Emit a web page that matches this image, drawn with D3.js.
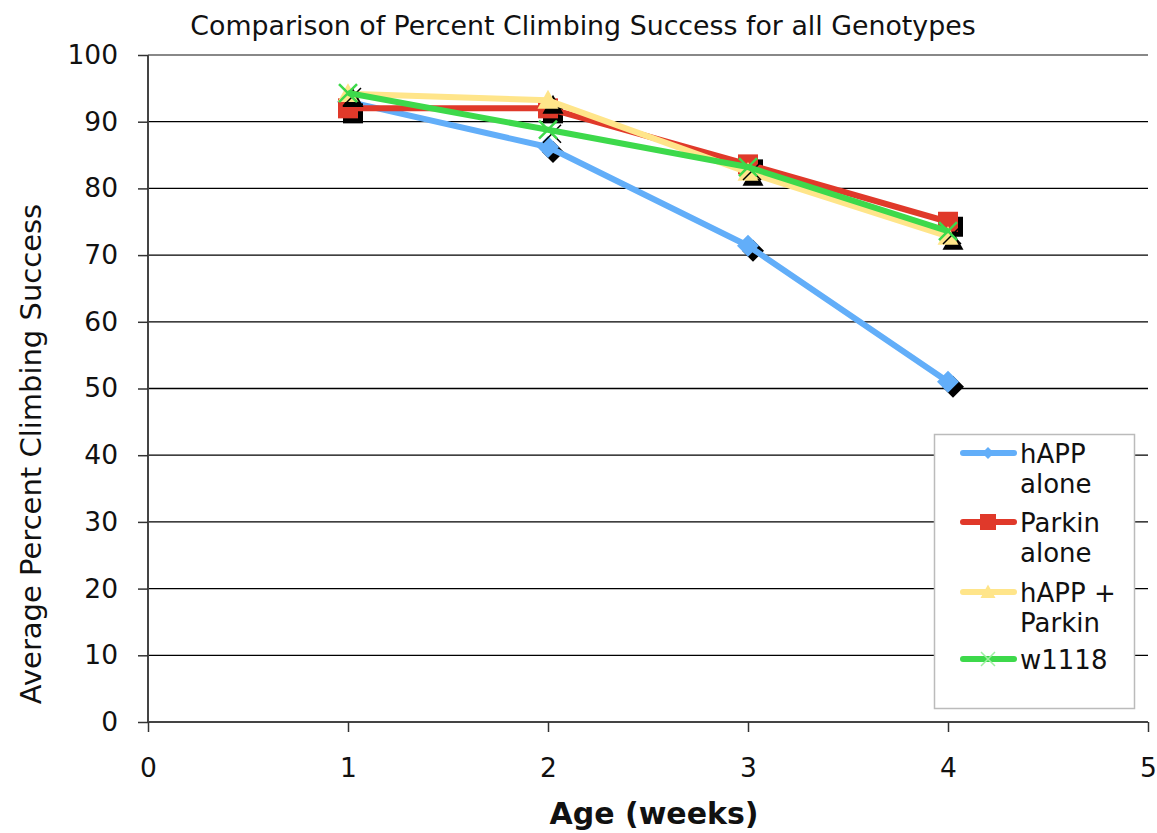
<!DOCTYPE html>
<html>
<head>
<meta charset="utf-8">
<script src="https://cdn.jsdelivr.net/npm/d3@7"></script>
<style>
  html, body { margin: 0; padding: 0; background: #fff; }
  svg { display: block; font-family: "DejaVu Sans", Verdana, sans-serif; }
</style>
</head>
<body>
<svg id="chart" width="1157" height="833"></svg>
<script>
// Average climbing success (%) by age in weeks, per genotype
const weeks = [1, 2, 3, 4];
const hAPPAlone = [93.0, 86.2, 71.4, 51.0];
const parkinAlone = [92.0, 92.0, 83.6, 75.0];
const hAPPParkin = [94.2, 93.2, 82.4, 72.8];
const w1118 = [94.3, 88.8, 83.2, 73.6];

const seriesNames = [["hAPP", "alone"], ["Parkin", "alone"], ["hAPP +", "Parkin"], ["w1118"]];
const xTicks = [0, 1, 2, 3, 4, 5];
const yTicks = [0, 10, 20, 30, 40, 50, 60, 70, 80, 90, 100];

const series = [
  { name: seriesNames[0], values: hAPPAlone, color: "#62aef9", marker: "diamond" },
  { name: seriesNames[1], values: parkinAlone, color: "#e0392a", marker: "square" },
  { name: seriesNames[2], values: hAPPParkin, color: "#ffe58a", marker: "triangle" },
  { name: seriesNames[3], values: w1118, color: "#3dd94b", marker: "cross" }
];

const FONT = "DejaVu Sans, Verdana, sans-serif";
const svg = d3.select("#chart");
const plot = { left: 148, right: 1148, top: 55, bottom: 722 };

const x = d3.scaleLinear().domain([0, 5]).range([plot.left, plot.right]);
const y = d3.scaleLinear().domain([0, 100]).range([plot.bottom, plot.top]);

// Horizontal gridlines
svg.append("g")
  .selectAll("line")
  .data(yTicks.filter(d => d > 0))
  .join("line")
  .attr("x1", plot.left).attr("x2", plot.right)
  .attr("y1", d => y(d)).attr("y2", d => y(d))
  .attr("stroke", d => d === 100 ? "#888" : "#000")
  .attr("stroke-width", d => d === 100 ? 2 : 1.3);

// Y axis
const yAxis = svg.append("g")
  .attr("transform", `translate(${plot.left},0)`)
  .call(d3.axisLeft(y).tickValues(yTicks).tickSize(10).tickPadding(20).tickFormat(d3.format("d")));
yAxis.attr("font-size", 26.5).attr("font-family", FONT);
yAxis.select(".domain").attr("stroke", "#444").attr("stroke-width", 2).attr("d", `M0,${plot.top}V${plot.bottom}`);
yAxis.selectAll(".tick line").attr("stroke", "#333").attr("stroke-width", 1.5);
yAxis.selectAll(".tick text").attr("fill", "#111");

// X axis
const xAxis = svg.append("g")
  .attr("transform", `translate(0,${plot.bottom})`)
  .call(d3.axisBottom(x).tickValues(xTicks).tickSize(10).tickPadding(26).tickFormat(d3.format("d")));
xAxis.attr("font-size", 26.5).attr("font-family", FONT);
xAxis.select(".domain").attr("stroke", "#444").attr("stroke-width", 2).attr("d", `M${plot.left},0H${plot.right}`);
xAxis.selectAll(".tick line").attr("stroke", "#333").attr("stroke-width", 1.5);
xAxis.selectAll(".tick text").attr("fill", "#111");

// Titles
svg.append("text")
  .attr("x", 583).attr("y", 35)
  .attr("text-anchor", "middle")
  .attr("font-size", 26.8).attr("fill", "#111")
  .text("Comparison of Percent Climbing Success for all Genotypes");

svg.append("text")
  .attr("transform", `translate(41,454) rotate(-90)`)
  .attr("text-anchor", "middle")
  .attr("font-size", 29).attr("fill", "#111")
  .text("Average Percent Climbing Success");

svg.append("text")
  .attr("x", 654).attr("y", 824)
  .attr("text-anchor", "middle")
  .attr("font-size", 30).attr("font-weight", "bold").attr("fill", "#111")
  .text("Age (weeks)");

// Marker shapes
function markerPath(type, s) {
  const h = s / 2;
  switch (type) {
    case "diamond": return `M0,${-h}L${h},0L0,${h}L${-h},0Z`;
    case "square": return `M${-h},${-h}H${h}V${h}H${-h}Z`;
    case "triangle": return `M0,${-h}L${h},${h * 0.8}H${-h}Z`;
    case "cross": return `M${-h},${-h}L${h},${h}M${h},${-h}L${-h},${h}`;
  }
}
const markerSize = { diamond: 22, square: 20, triangle: 21, cross: 18 };

const line = d3.line().x((d, i) => x(weeks[i])).y(d => y(d));

series.forEach(s => {
  const g = svg.append("g");
  // drop shadows of markers
  if (s.marker !== "cross") {
    g.selectAll(".shadow")
      .data(s.values)
      .join("path")
      .attr("class", "shadow")
      .attr("transform", (d, i) => `translate(${x(weeks[i]) + 5},${y(d) + 5})`)
      .attr("d", markerPath(s.marker, markerSize[s.marker]))
      .attr("fill", "#000");
  } else {
    g.selectAll(".shadow")
      .data(s.values)
      .join("path")
      .attr("class", "shadow")
      .attr("transform", (d, i) => `translate(${x(weeks[i]) + 4},${y(d) + 4})`)
      .attr("d", markerPath("cross", markerSize.cross))
      .attr("fill", "none").attr("stroke", "#000").attr("stroke-width", 1.5);
  }
  g.append("path")
    .datum(s.values)
    .attr("d", line)
    .attr("fill", "none")
    .attr("stroke", s.color)
    .attr("stroke-width", 6)
    .attr("stroke-linejoin", "round");
  g.selectAll(".mark")
    .data(s.values)
    .join("path")
    .attr("class", "mark")
    .attr("transform", (d, i) => `translate(${x(weeks[i])},${y(d)})`)
    .attr("d", markerPath(s.marker, markerSize[s.marker]))
    .attr("fill", s.marker === "cross" ? "none" : s.color)
    .attr("stroke", s.marker === "cross" ? s.color : "none")
    .attr("stroke-width", 2.5);
});

// Legend
const legend = svg.append("g");
legend.append("rect")
  .attr("x", 934.5).attr("y", 434.5).attr("width", 200).attr("height", 274)
  .attr("fill", "#fff").attr("stroke", "#bbb").attr("stroke-width", 1.5);

const legendRows = [453, 522, 592, 659];
const lineH = 30;
series.forEach((s, i) => {
  const cy = legendRows[i];
  legend.append("line")
    .attr("x1", 963).attr("x2", 1014).attr("y1", cy).attr("y2", cy)
    .attr("stroke", s.color).attr("stroke-width", 6).attr("stroke-linecap", "round");
  const lm = { diamond: 12, square: 16, triangle: 15, cross: 14 }[s.marker];
  legend.append("path")
    .attr("transform", `translate(988,${cy})`)
    .attr("d", markerPath(s.marker, lm))
    .attr("fill", s.marker === "cross" ? "none" : s.color)
    .attr("stroke", s.marker === "cross" ? "#9ff0a2" : "none")
    .attr("stroke-width", 1.5);
  const t = legend.append("text")
    .attr("x", 1020).attr("y", cy + 10)
    .attr("font-size", 26).attr("fill", "#111");
  s.name.forEach((part, j) => {
    t.append("tspan").attr("x", 1020).attr("dy", j === 0 ? 0 : lineH).text(part);
  });
});
</script>
</body>
</html>
